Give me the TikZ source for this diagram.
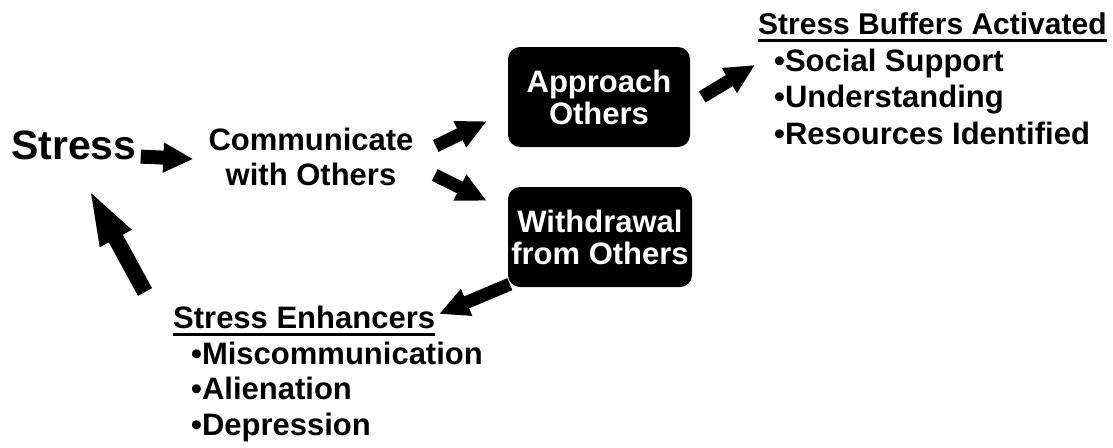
\documentclass[tikz,border=0pt]{standalone}
\usepackage{fontspec}
\setmainfont{Liberation Sans}
\usetikzlibrary{arrows.meta}
\newcommand{\ulined}[1]{\setbox0\hbox{#1}\rlap{\rule[-7pt]{\wd0}{3pt}}\box0}
\tikzset{
	blockarrow/.style={line width=14pt,-{Triangle[length=30pt,width=28pt]}},
	slimarrow/.style={line width=13pt,-{Triangle[length=30pt,width=27pt]}},
	blackbox/.style={fill=black,text=white,rounded corners=12pt,minimum width=182pt,minimum height=100pt,align=center,inner sep=0pt,font={\bfseries\fontsize{31}{32}\selectfont}},
	plaintext/.style={align=center,inner sep=0pt,font={\bfseries\fontsize{31}{35}\selectfont}},
	listtext/.style={align=left,inner sep=0pt,anchor=north west}
}
\begin{document}
\begin{tikzpicture}[x=1pt,y=-1pt]
	\useasboundingbox (0,0) rectangle (1113,447);
	
	\node[anchor=base west,inner sep=0pt,font={\bfseries\fontsize{41}{41}\selectfont}] (stress) at (11,159) {Stress};
	\node[plaintext] (comm) at (311,157) {Communicate\\with Others};
	\node[blackbox] (app) at (599,97) {Approach\\Others};
	\node[blackbox,minimum width=184pt] (wd) at (600,237) {Withdrawal\\from Others};
	
	\node[listtext,font={\bfseries\fontsize{31}{36.5}\selectfont}] (buf) at (758,13) {{\fontsize{30}{36.5}\selectfont\ulined{Stress Buffers Activated}}\\
		\hspace*{16pt}•Social Support\\
		\hspace*{16pt}•Understanding\\
		\hspace*{16pt}•Resources Identified};
	\node[listtext,font={\bfseries\fontsize{31}{35.5}\selectfont}] (enh) at (173,306) {\ulined{Stress Enhancers}\\
		\hspace*{18pt}•Miscommunication\\
		\hspace*{18pt}•Alienation\\
		\hspace*{18pt}•Depression};
	
	\draw[blockarrow] ([shift={(4,-3)}]stress.south east) -- ([shift={(-15,2)}]comm.west);
	\draw[slimarrow] ([shift={(22,-11)}]comm.east) -- ([shift={(-21,-26)}]app.south west);
	\draw[slimarrow] ([shift={(21,18)}]comm.east) -- ([shift={(-21,14)}]wd.north west);
	\draw[slimarrow] ([shift={(12,0)}]app.east) -- ([shift={(-3,-14)}]buf.west);
	\draw[slimarrow] ([shift={(2,-3)}]wd.south west) -- ([shift={(266,8)}]enh.north west);
	\draw[line width=16pt,-{Triangle[length=58pt,width=31pt]}] ([shift={(-28,-14)}]enh.north west) -- ([shift={(77,28)}]stress.south west);
\end{tikzpicture}
\end{document}
